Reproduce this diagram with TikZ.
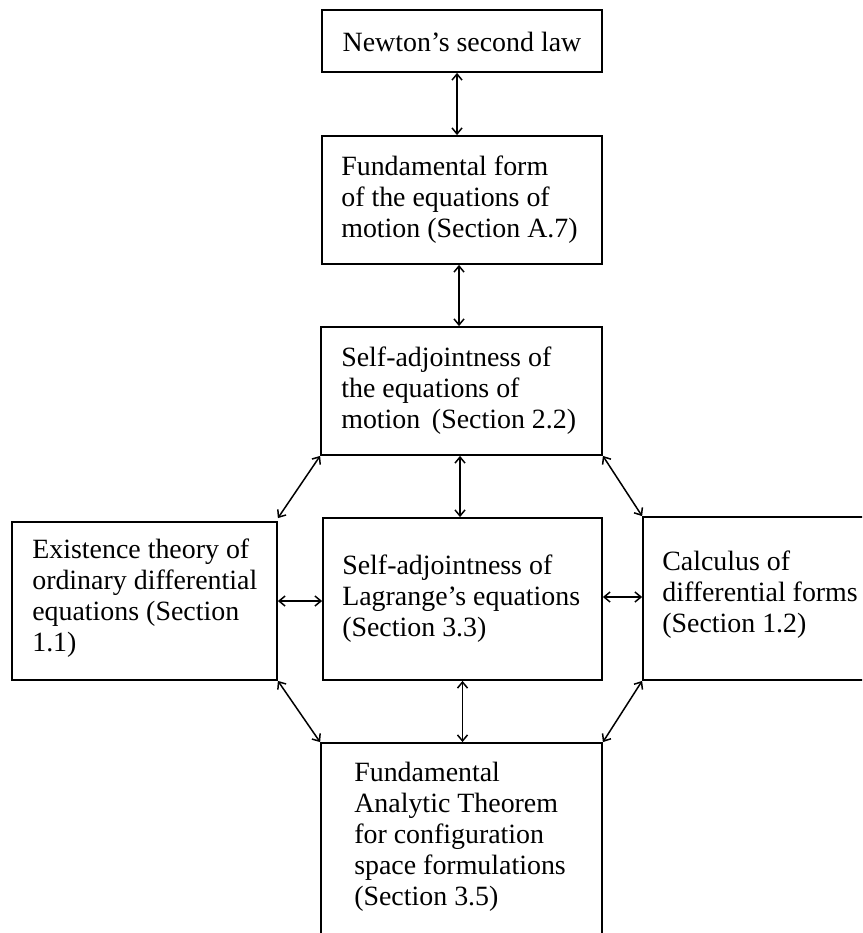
\documentclass[tikz,border=0pt]{standalone}
\usepackage{fontspec}
\setmainfont{Liberation Serif}
\usetikzlibrary{arrows.meta}
\tikzset{
  box/.style={draw, line width=1.8pt, rectangle, inner sep=0pt},
  txt/.style={align=left, inner sep=0pt, anchor=west, font=\fontsize{27.9}{31}\selectfont},
  link/.style={line width=1.5pt, {Straight Barb[length=6pt,width=10pt]}-{Straight Barb[length=6pt,width=10pt]}}
}
\begin{document}
\begin{tikzpicture}[x=1pt,y=-1pt]
\useasboundingbox (0,0) rectangle (862,933);
\clip (0,0) rectangle (862,933);
% boxes
\node[box, minimum width=280, minimum height=62] (newton) at (462,41) {};
\node[box, minimum width=280, minimum height=128] (fund) at (462,200) {};
\node[box, minimum width=281, minimum height=128] (selfm) at (461.5,391) {};
\node[box, minimum width=279, minimum height=162] (center) at (462.5,599) {};
\node[box, minimum width=265, minimum height=158] (left) at (144.5,601) {};
\node[box, minimum width=250, minimum height=163] (right) at (768,598.5) {};
\node[box, minimum width=281, minimum height=204] (bottom) at (461.5,845) {};
% texts
\node[txt, anchor=center] (newtont) at ([yshift=-1pt]newton.center) {Newton’s second law};
\node[txt] (fundt) at ([xshift=20pt]fund.west) {Fundamental form\\of the equations of\\motion (Section A.7)};
\node[txt] (selfmt) at ([xshift=21pt]selfm.west) {Self-adjointness of\\the equations of\\motion\ \,(Section 2.2)};
\node[txt] (centert) at ([xshift=20pt]center.west) {Self-adjointness of\\Lagrange’s equations\\(Section 3.3)};
\node[txt] (leftt) at ([xshift=21pt,yshift=3pt]left.west) {Existence theory of\\ordinary differential\\equations (Section\\1.1)};
\node[txt] (rightt) at ([xshift=20pt,yshift=3.5pt]right.west) {Calculus of\\differential forms\\(Section 1.2)};
\node[txt] (bottomt) at ([xshift=34pt,yshift=8pt]bottom.west) {Fundamental\\Analytic Theorem\\for configuration\\space formulations\\(Section 3.5)};
% connectors
\draw[link] ([xshift=-5pt]newton.south) -- ([xshift=-5pt]fund.north);
\draw[link] ([xshift=-3pt]fund.south) -- ([xshift=-3pt]fund.south |- selfm.north);
\draw[link] ([xshift=-1.5pt]selfm.south) -- ([xshift=-1.5pt]selfm.south |- center.north);
\draw[link] (center.south) -- (center.south |- bottom.north);
\draw[link] (left.east) -- (left.east -| center.west);
\draw[link] ([yshift=2pt]center.east) -- ([yshift=2pt]center.east -| right.west);
\draw[link] (selfm.south west) -- ([yshift=3pt]left.north east);
\draw[link] (selfm.south east) -- (right.north west);
\draw[link] (left.south east) -- (bottom.north west);
\draw[link] (right.south west) -- (bottom.north east);
\end{tikzpicture}
\end{document}
